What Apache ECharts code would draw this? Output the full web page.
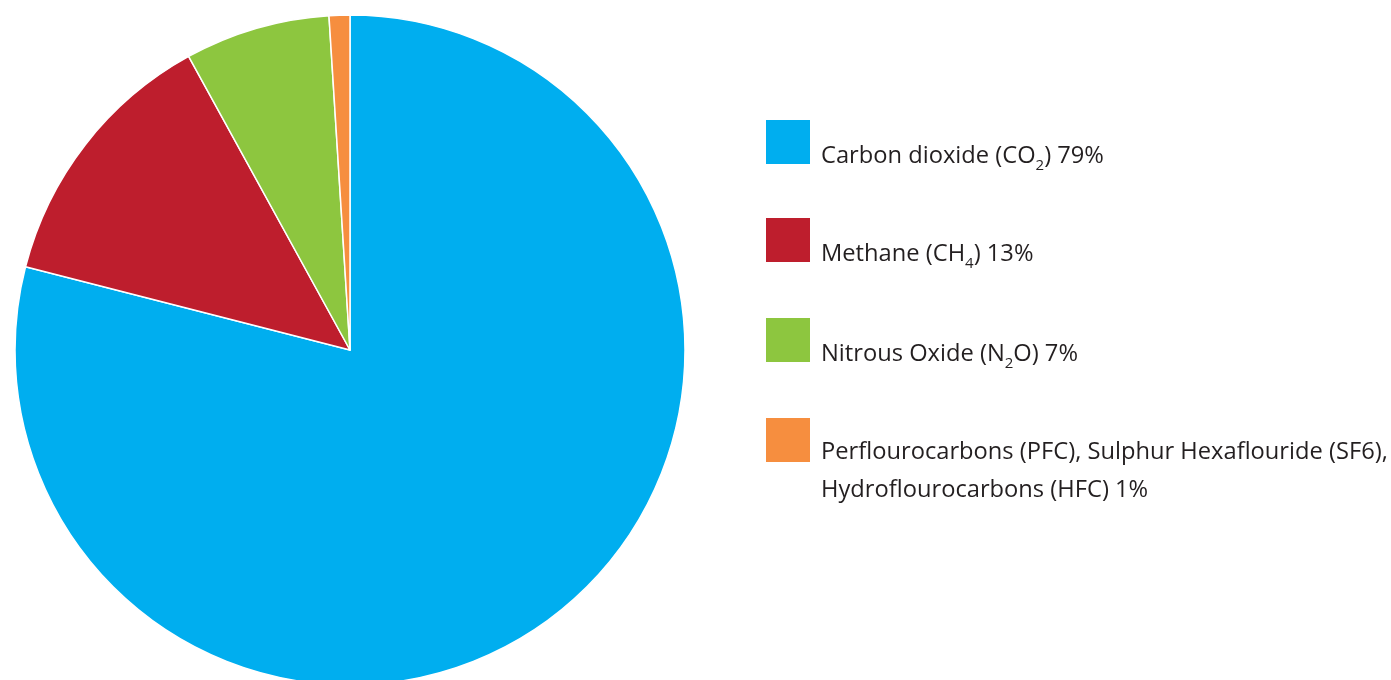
<!DOCTYPE html>
<html>
<head>
<meta charset="utf-8">
<style>
  html, body { margin: 0; padding: 0; background: #fff; }
  #chart { width: 1391px; height: 680px; }
</style>
<script src="https://cdn.jsdelivr.net/npm/echarts@6/dist/echarts.min.js"></script>
</head>
<body>
<div id="chart"></div>
<script>
// Greenhouse gas shares, percent of total emissions
const gases = [
  'Carbon dioxide',
  'Methane',
  'Nitrous Oxide',
  'Fluorinated gases'
];
const shares = [79, 13, 7, 1];
const colors = ['#00AEEF', '#BE1E2D', '#8DC63F', '#F68E3F'];
// Legend captions, with {sub|..} marking chemical subscripts
const captions = [
  'Carbon dioxide (CO{sub|2}) 79%',
  'Methane (CH{sub|4}) 13%',
  'Nitrous Oxide (N{sub|2}O) 7%',
  'Perflourocarbons (PFC), Sulphur Hexaflouride (SF6),\nHydroflourocarbons (HFC) 1%'
];

const FONT = '"Open Sans", "Noto Sans", sans-serif';
const TEXT = '#231F20';
const SWATCH = 44;

// Subscripts sit at the bottom of a taller line box, so they drop below the baseline
const subStyle = {
  fontFamily: FONT, fontSize: 15, color: TEXT,
  lineHeight: 15, verticalAlign: 'bottom'
};

// One legend block per gas so each row can sit at its own height
const swatchTops = [120, 218, 318, 418];
const legends = gases.map((g, i) => {
  const multi = captions[i].indexOf('\n') >= 0;
  const lineH = multi ? 38 : 35;
  const padTop = multi ? 62 : 28;
  const lines = multi ? 2 : 1;
  // text box is centred on the swatch; the block's top is whichever is higher
  const boxTop = SWATCH / 2 - (lineH * lines + padTop) / 2;
  return {
    show: true,
    left: 766,
    top: swatchTops[i] + Math.min(0, boxTop),
    padding: 0,
    orient: 'vertical',
    itemWidth: SWATCH,
    itemHeight: SWATCH,
    icon: 'rect',
    selectedMode: false,
    data: [{ name: g, itemStyle: { borderWidth: 0 } }],
    formatter: () => captions[i],
    textStyle: {
      fontFamily: FONT,
      fontSize: 23.7,
      color: TEXT,
      lineHeight: lineH,
      padding: [padTop, 0, 0, 6],
      rich: { sub: subStyle }
    }
  };
});

const chart = echarts.init(document.getElementById('chart'), null, { renderer: 'canvas' });
chart.setOption({
  animation: false,
  backgroundColor: '#ffffff',
  color: colors,
  legend: legends,
  series: [{
    type: 'pie',
    center: [350, 350],
    radius: [0, 335],
    startAngle: 90,
    clockwise: true,
    label: { show: false },
    labelLine: { show: false },
    emphasis: { disabled: true },
    itemStyle: { borderColor: '#ffffff', borderWidth: 1.5 },
    data: gases.map((g, i) => ({ name: g, value: shares[i] }))
  }]
});
</script>
</body>
</html>
